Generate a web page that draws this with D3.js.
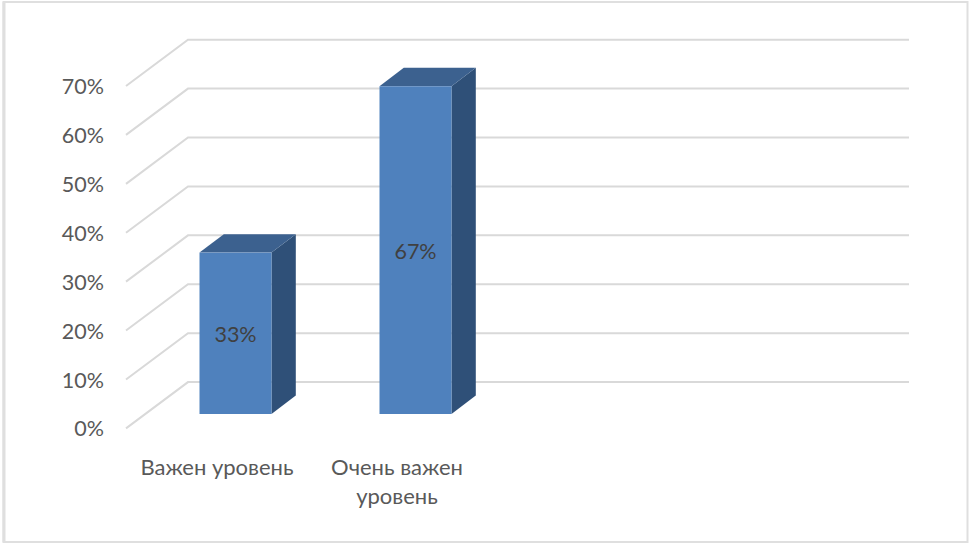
<!DOCTYPE html>
<html><head><meta charset="utf-8">
<script src="https://cdn.jsdelivr.net/npm/d3@7/dist/d3.min.js"></script>
<style>html,body{margin:0;padding:0;background:#fff}svg{display:block}text{font-family:Lato,"Open Sans",sans-serif}</style>
</head><body><svg id="c" width="969" height="544"></svg>
<script>
const categories = [["Важен уровень"], ["Очень важен", "уровень"]];
const values = [0.33, 0.67];
const valueLabels = ["33%", "67%"];
const yTicks = [0, 0.1, 0.2, 0.3, 0.4, 0.5, 0.6, 0.7];

const svg = d3.select("#c");
// chart frame
svg.append("rect").attr("x", 3.5).attr("y", 2).attr("width", 964).attr("height", 540)
  .attr("fill", "#fff").attr("stroke", "#dfdfdf").attr("stroke-width", 2);
svg.append("line").attr("x1", 4).attr("x2", 4).attr("y1", 2).attr("y2", 542)
  .attr("stroke", "#dfdfdf").attr("stroke-width", 3);

// floor-depth of the 3D box: back wall offset and bar offset
const wallDx = 62, wallDy = 46.3, barDx = 24.3, barDy = 18.4, barInsetY = 14.4;
const y = d3.scaleLinear().domain([0, 0.7]).range([428.4, 86]);
const x = d3.scaleBand().domain(d3.range(categories.length)).range([126, 486]).padding(0);
const barW = 72;

// gridlines
const grid = svg.append("g");
yTicks.forEach(t => {
  grid.append("polyline")
    .attr("points", [[126, y(t)], [126 + wallDx, y(t) - wallDy], [909, y(t) - wallDy]].map(p => p.join(",")).join(" "))
    .attr("fill", "none").attr("stroke", "#d9d9d9").attr("stroke-width", 2);
});

// y axis labels
const axis = svg.append("g").attr("transform", "translate(104,0)")
  .call(d3.axisLeft(y).tickValues(yTicks).tickFormat(d3.format(".0%")).tickSize(0).tickPadding(0));
axis.select(".domain").remove();
axis.selectAll("text").attr("x", 0).attr("dy", "0.35em").style("font-family", 'Lato,"Open Sans",sans-serif').style("font-size", "21.5px").attr("fill", "#595959");

// bars
const bars = svg.append("g").selectAll("g").data(values).join("g");
bars.each(function (v, i) {
  const g = d3.select(this);
  const cx = x(i) + x.bandwidth() / 2 + 19.5;
  const x0 = cx - barW / 2, x1 = cx + barW / 2;
  const top = y(v) - barInsetY, base = y(0) - barInsetY;
  const poly = pts => pts.map(p => p.join(",")).join(" ");
  g.append("polygon").attr("fill", "#2f5078")
    .attr("points", poly([[x1, top], [x1 + barDx, top - barDy], [x1 + barDx, base - barDy], [x1, base]]));
  g.append("polygon").attr("fill", "#3c618f")
    .attr("points", poly([[x0, top], [x0 + barDx, top - barDy], [x1 + barDx, top - barDy], [x1, top]]));
  g.append("rect").attr("x", x0).attr("y", top).attr("width", barW).attr("height", base - top).attr("fill", "#4f81bd");
  g.append("text").attr("x", cx).attr("y", (top + base) / 2 + 8.5)
    .attr("text-anchor", "middle").attr("font-size", 21.5).attr("fill", "#404040").text(valueLabels[i]);
});

// category labels
categories.forEach((lines, i) => {
  const cx = x(i) + x.bandwidth() / 2 + 1;
  lines.forEach((s, k) => {
    svg.append("text").attr("x", cx).attr("y", 475 + k * 29)
      .attr("text-anchor", "middle").attr("font-size", 22).attr("fill", "#595959").text(s);
  });
});
</script></body></html>
